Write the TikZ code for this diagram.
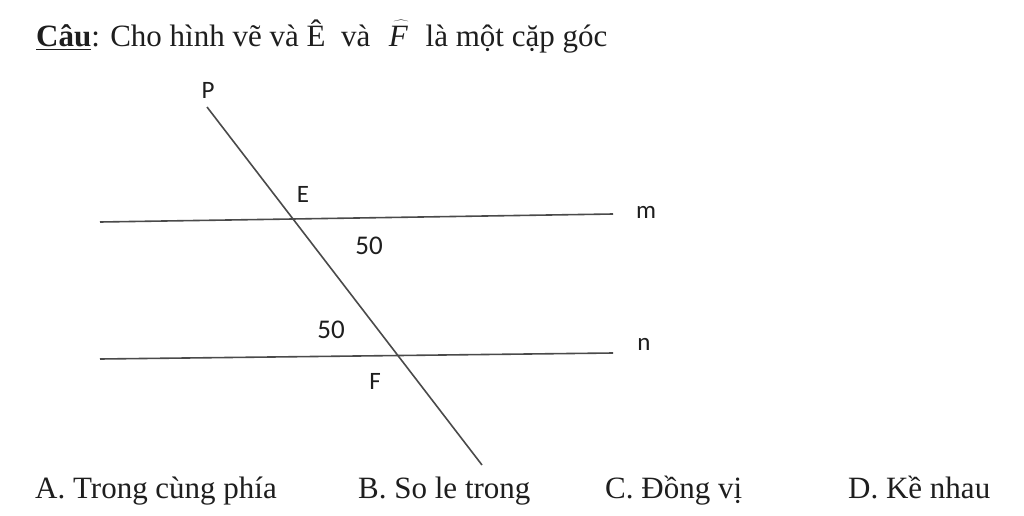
\documentclass[tikz,border=0pt]{standalone}
\usepackage{fontspec}
\setmainfont{Liberation Serif}
\newfontfamily\lblfont{Carlito}
\definecolor{inkc}{HTML}{1E1E1E}
\definecolor{linec}{HTML}{4A4A4A}
\begin{document}
\begin{tikzpicture}[x=1pt,y=-1pt,
  geoline/.style={draw=linec,line width=1.6pt},
  lbl/.style={font=\lblfont\fontsize{25}{28}\selectfont,text=inkc,inner sep=0pt},
  numlbl/.style={font=\lblfont\fontsize{27}{30}\selectfont,text=inkc,inner sep=0pt},
  body/.style={font=\fontsize{31}{35}\selectfont,text=inkc,inner sep=0pt,anchor=base west}]
\useasboundingbox[fill=white] (0,0) rectangle (1024,516);
% header
\node[body] (title) at (36,47) {\textbf{\underline{Câu}}: Cho hình vẽ và Ê\hspace{0.25em} và\hspace{0.35em} $\widehat{\vphantom{\rule{0pt}{0.78em}}\mathit{F}\mkern4mu}$\hspace{0.15em} là một cặp góc};
% geometry
\coordinate (mL) at (100,222);
\coordinate (mR) at (613,214);
\coordinate (nL) at (100,359);
\coordinate (nR) at (613,353);
\coordinate (pT) at (207,107);
\coordinate (pB) at (482,465);
\draw[geoline] (mL) -- (mR);
\draw[geoline] (nL) -- (nR);
\draw[geoline] (pT) -- (pB);
\node[lbl] (P) at (208,90) {P};
\node[lbl] (E) at (303,194) {E};
\node[lbl] (m) at (646,212) {m};
\node[lbl] (n) at (644,344) {n};
\node[numlbl] (a1) at (369,246) {50};
\node[numlbl] (a2) at (331,330) {50};
\node[lbl] (F) at (375,381) {F};
% options
\node[body] (A) at (35,498) {A. Trong cùng phía};
\node[body] (B) at (358,498) {B. So le trong};
\node[body] (C) at (605,498) {C. Đồng vị};
\node[body] (D) at (848,498) {D. Kề nhau};
\end{tikzpicture}
\end{document}
